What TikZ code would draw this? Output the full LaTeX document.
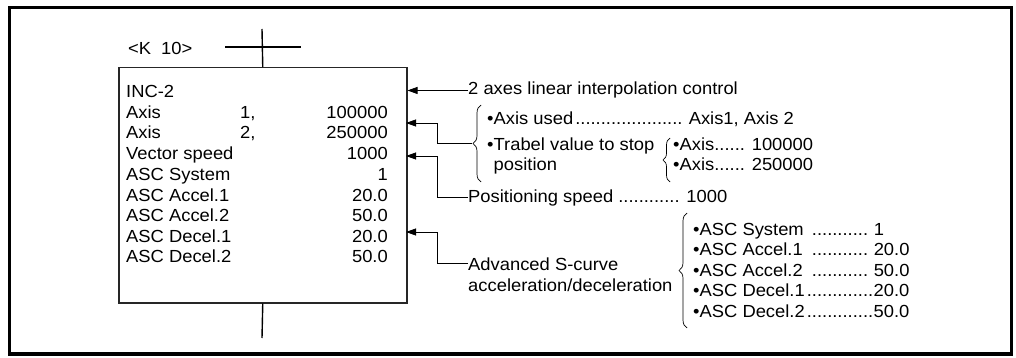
\documentclass[tikz,border=0pt]{standalone}
\usepackage{fontspec}
\setmainfont{Liberation Sans}[FakeStretch=1.05]
\usetikzlibrary{arrows.meta,decorations.pathreplacing}
\newcommand{\dotrow}[3]{\hbox to #1{#2\leaders\hbox{.}\hfill}#3}
\begin{document}
\begin{tikzpicture}[x=1pt,y=-1pt,
  font=\fontsize{17.5}{21}\selectfont,
  txt/.style={anchor=base west, inner sep=0pt},
  val/.style={anchor=base east, inner sep=0pt},
  frame/.style={line width=3.5pt},
  boxline/.style={line width=1.5pt, draw=black!85},
  rung/.style={line width=1.4pt},
  conn/.style={line width=0.8pt},
  arr/.style={conn, -{Triangle[length=10pt,width=7pt]}},
  brc/.style={line width=0.7pt, decorate, decoration={brace, amplitude=8pt}},
  brcs/.style={line width=0.7pt, decorate, decoration={brace, amplitude=7pt}}]
\useasboundingbox (0,0) rectangle (1016,358);
\draw[frame] (9.5,7.5) rectangle (1011.5,354);

% program box
\node[boxline, draw, minimum width=288pt, minimum height=235pt, anchor=north west, inner sep=0pt] (box) at (118,67) {};
\coordinate (rtop) at (262,29);
\coordinate (hl) at (225,47);
\coordinate (hr) at (301,47);
\coordinate (rbot) at (262,338);
\draw[rung] (box.north) -- (rtop);
\draw[rung] (hl) -- (hr);
\draw[rung] (box.south) -- (rbot);
\node[txt] (k) at (128,55) {<K\hspace{10pt}10>};

% box contents
\node[txt] (l0) at (126,98) {INC-2};
\node[txt] (l1) at (126,118.5) {Axis};
\node[txt] (n1) at (240,118.5) {1,};
\node[val] (v1) at (388,118.5) {100000};
\node[txt] (l2) at (126,139) {Axis};
\node[txt] (n2) at (240,139) {2,};
\node[val] (v2) at (388,139) {250000};
\node[txt] (l3) at (126,160) {Vector speed};
\node[val] (v3) at (388,160) {1000};
\node[txt] (l4) at (126,180.5) {ASC System};
\node[val] (v4) at (388,180.5) {1};
\node[txt] (l5) at (126,201) {ASC Accel.1};
\node[val] (v5) at (388,201) {20.0};
\node[txt] (l6) at (126,221.5) {ASC Accel.2};
\node[val] (v6) at (388,221.5) {50.0};
\node[txt] (l7) at (126,242) {ASC Decel.1};
\node[val] (v7) at (388,242) {20.0};
\node[txt] (l8) at (126,262.5) {ASC Decel.2};
\node[val] (v8) at (388,262.5) {50.0};

% box edge targets
\coordinate (a2) at (406,123);
\coordinate (a3) at (406,156);
\coordinate (a4) at (406,232);
\coordinate (elbx) at (437,0);

% explanations
\node[txt] (ctl) at (468,95) {2 axes linear interpolation control};
\draw[arr] (ctl.west) -- (ctl.west -| box.east);

\coordinate (b1t) at (481,105);
\coordinate (b1b) at (481,182);
\coordinate (b1tip) at (472,143.5);
\draw[brc] (b1b) -- (b1t);
\node[txt] (used) at (487,125) {•\dotrow{190pt}{Axis used}{\ Axis1, Axis 2}};
\node[txt] (trab) at (487,150) {•Trabel value to stop};
\node[txt] (posi) at (493.5,171) {position};
\draw[arr] (b1tip) -- (b1tip -| elbx) |- (a2);

\coordinate (b2t) at (670,138);
\coordinate (b2b) at (670,182);
\draw[brcs] (b2b) -- (b2t);
\node[txt] (ax1) at (673,150) {•Axis...... 100000};
\node[txt] (ax2) at (673,171) {•Axis...... 250000};

\node[txt] (pos) at (468,202) {Positioning speed ............ 1000};
\draw[arr] (pos.west) -- (pos.west -| elbx) |- (a3);

\node[txt] (adv1) at (468,270) {Advanced S-curve};
\node[txt] (adv2) at (468,291) {acceleration/deceleration};
\draw[arr] (adv1.west) -- (adv1.west -| elbx) |- (a4);

\coordinate (b3t) at (687,213);
\coordinate (b3b) at (687,328);
\draw[brc] (b3b) -- (b3t);
\node[txt] (s1) at (693,235) {•\dotrow{169pt}{ASC System }{\ 1}};
\node[txt] (s2) at (693,255.5) {•\dotrow{169pt}{ASC Accel.1 }{\ 20.0}};
\node[txt] (s3) at (693,276) {•\dotrow{169pt}{ASC Accel.2 }{\ 50.0}};
\node[txt] (s4) at (693,296.5) {•\dotrow{174pt}{ASC Decel.1}{20.0}};
\node[txt] (s5) at (693,317) {•\dotrow{174pt}{ASC Decel.2}{50.0}};
\end{tikzpicture}
\end{document}
